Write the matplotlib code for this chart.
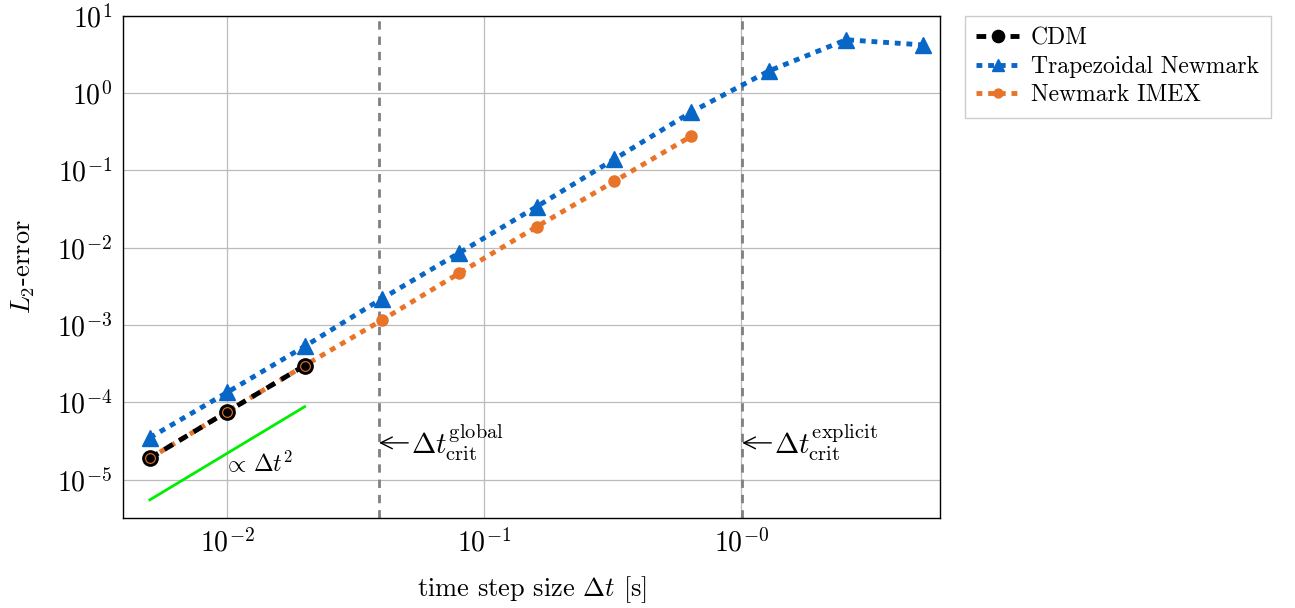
import matplotlib
matplotlib.use('Agg')
import matplotlib.pyplot as plt
import numpy as np

plt.rcParams['font.family'] = 'serif'
plt.rcParams['font.serif'] = ['cmr10', 'DejaVu Serif']
plt.rcParams['mathtext.fontset'] = 'cm'
plt.rcParams['axes.unicode_minus'] = False

# time step sizes [s]
dt_cdm = [0.005, 0.01, 0.02]
dt_trap = [0.005, 0.01, 0.02, 0.04, 0.08, 0.16, 0.32, 0.64, 1.28, 2.56, 5.12]
dt_imex = [0.005, 0.01, 0.02, 0.04, 0.08, 0.16, 0.32, 0.64]

# L2 errors
err_cdm = [1.9e-5, 7.6e-5, 3.0e-4]
err_trap = [3.5e-5, 1.35e-4, 5.3e-4, 2.2e-3, 8.6e-3, 3.4e-2, 0.139, 0.57, 1.93, 4.9, 4.2]
err_imex = [1.9e-5, 7.6e-5, 3.0e-4, 1.16e-3, 4.7e-3, 1.87e-2, 7.2e-2, 0.278]

# reference slope line  ~ dt^2
dt_ref = [0.005, 0.02]
err_ref = [5.5e-6, 8.8e-5]

# critical time steps
dt_crit_global = 0.039
dt_crit_explicit = 1.01

xticks = [1e-2, 1e-1, 1e0]
xticklabels = [r'$10^{-2}$', r'$10^{-1}$', r'$10^{-0}$']
yticks = [1e-5, 1e-4, 1e-3, 1e-2, 1e-1, 1e0, 1e1]
yticklabels = [r'$10^{-5}$', r'$10^{-4}$', r'$10^{-3}$', r'$10^{-2}$',
               r'$10^{-1}$', r'$10^{0}$', r'$10^{1}$']

blue = '#0866c6'
orange = '#e8742a'

fig = plt.figure(figsize=(12.95, 6.08), dpi=100)
ax = fig.add_axes([0.095, 0.148, 0.631, 0.826])
ax.set_xscale('log')
ax.set_yscale('log')

ax.axvline(dt_crit_global, color='gray', ls=(0, (3, 2.5)), lw=2, zorder=2)
ax.axvline(dt_crit_explicit, color='gray', ls=(0, (3, 2.5)), lw=2, zorder=2)

ax.plot(dt_ref, err_ref, color='#00ee00', lw=2, zorder=3)

ax.plot(dt_trap, err_trap, color=blue, ls=(0, (1.2, 1.2)), lw=3.5,
        marker='^', ms=11, label='Trapezoidal Newmark', zorder=4)
ax.plot(dt_imex, err_imex, color=orange, ls=(0, (1.2, 1.2)), lw=3.5,
        marker='o', ms=8, label='Newmark IMEX', zorder=5)
ax.plot(dt_cdm, err_cdm, color='black', ls=(0, (2, 1.5)), lw=3.5,
        marker='o', ms=11, mec='black', mfc='black', label='CDM', zorder=6)
# thin ring where the IMEX markers sit beneath
ax.plot(dt_cdm, err_cdm, ls='none', marker='o', ms=7, mfc='none',
        mec=orange, mew=0.8, zorder=7)

ax.text(0.0096, 1.25e-5, r'$\propto\,\Delta t^2$', fontsize=17)

ax.annotate(r'$\Delta t_{\rm crit}^{\rm global}$', xy=(dt_crit_global, 3e-5),
            xytext=(dt_crit_global * 1.33, 3e-5), fontsize=21, va='center',
            arrowprops=dict(arrowstyle='->', color='black', lw=1,
                            shrinkA=0, shrinkB=0))
ax.annotate(r'$\Delta t_{\rm crit}^{\rm explicit}$', xy=(dt_crit_explicit, 3e-5),
            xytext=(dt_crit_explicit * 1.33, 3e-5), fontsize=21, va='center',
            arrowprops=dict(arrowstyle='->', color='black', lw=1,
                            shrinkA=0, shrinkB=0))

ax.set_xlim(0.00393, 5.95)
ax.set_ylim(3.2e-6, 10)
ax.set_xticks(xticks)
ax.set_xticklabels(xticklabels)
ax.set_yticks(yticks)
ax.set_yticklabels(yticklabels)
ax.minorticks_off()
ax.tick_params(labelsize=20, length=0, pad=8)
ax.grid(True, color='#bbbbbb', lw=0.9)
ax.set_axisbelow(True)
for s in ax.spines.values():
    s.set_linewidth(1.0)

ax.set_xlabel(r'time step size $\Delta t$ [s]', fontsize=19, labelpad=12)
ax.set_ylabel(r'$L_2$-error', fontsize=19, labelpad=14)

handles, labels = ax.get_legend_handles_labels()
order = [2, 0, 1]
leg = ax.legend([handles[i] for i in order], [labels[i] for i in order],
                loc='upper left', bbox_to_anchor=(1.03, 1.0), fontsize=17,
                fancybox=False, edgecolor='#cccccc', framealpha=1,
                handlelength=1.8, handletextpad=0.5, borderpad=0.5,
                labelspacing=0.25, borderaxespad=0, markerscale=0.8)
leg.get_frame().set_linewidth(1.0)

fig.savefig('out.png', dpi=100)
